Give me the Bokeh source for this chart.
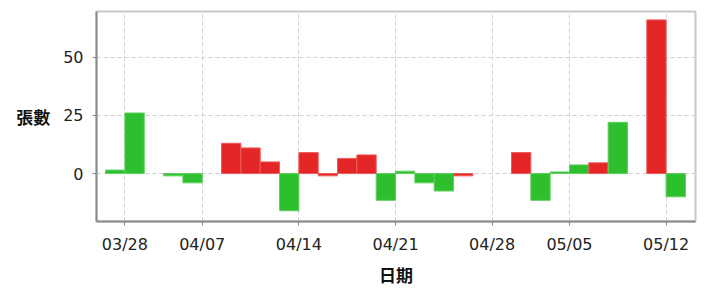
import numpy as np
from bokeh.plotting import figure
from bokeh.models import ColumnDataSource, FixedTicker, Range1d
from bokeh.embed import file_html
from bokeh.resources import INLINE

NA = float("nan")

# trading days (x index = position of each trading day)
dates = ["03/27", "03/28", "03/31", "04/01", "04/02", "04/07", "04/08", "04/09",
         "04/10", "04/11", "04/14", "04/15", "04/16", "04/17", "04/18", "04/21",
         "04/22", "04/23", "04/24", "04/25", "04/28", "04/29", "04/30", "05/02",
         "05/05", "05/06", "05/07", "05/08", "05/09", "05/12"]
values = [1.5, 26, NA, -1, -4, NA, 13, 11, 5, -16, 9, -1, 6.5, 8, -11.5, 1, -4,
          -7.5, -1, NA, NA, 9, -11.5, 0.7, 3.7, 4.6, 22, NA, 66, -10]
direction = ["down", "down", "down", "down", "down", "down", "up", "up", "up",
             "down", "up", "up", "up", "up", "down", "down", "down", "down",
             "up", "up", "up", "up", "down", "down", "down", "up", "down",
             "down", "up", "down"]
tick_labels = ["03/28", "04/07", "04/14", "04/21", "04/28", "05/05", "05/12"]
y_ticks = [0, 25, 50]

RED = "#e52626"
GREEN = "#2ebf2e"
RED_EDGE = "#ec5a5a"
GREEN_EDGE = "#5fcf5f"

idx = list(range(len(dates)))
src = ColumnDataSource(dict(
    x=np.array([i + 0.5 for i in idx]),
    top=np.array(values, dtype=float),
    fill=[RED if d == "up" else GREEN for d in direction],
    edge=[RED_EDGE if d == "up" else GREEN_EDGE for d in direction],
))

p = figure(width=703, height=290, output_backend="svg", toolbar_location=None,
           x_range=Range1d(-0.47, 30.52), y_range=Range1d(-20.6, 69.6),
           min_border_left=96, min_border_right=8, min_border_top=11,
           min_border_bottom=69)

p.vbar(x="x", top="top", bottom=0, width=1.0, fill_color="fill",
       line_color="edge", line_width=1, source=src)

tick_pos = [float(dates.index(t)) for t in tick_labels]
p.xaxis.ticker = FixedTicker(ticks=tick_pos)
p.xaxis.major_label_overrides = {tp: t for tp, t in zip(tick_pos, tick_labels)}
p.yaxis.ticker = FixedTicker(ticks=y_ticks)

for ax in (p.xaxis[0], p.yaxis[0]):
    ax.axis_line_color = "#8a8a8a"
    ax.axis_line_width = 2
    ax.major_tick_line_color = "#8a8a8a"
    ax.major_tick_line_width = 1
    ax.major_tick_out = 4
    ax.major_tick_in = 0
    ax.minor_tick_line_color = None
    ax.major_label_text_font = "DejaVu Sans"
    ax.major_label_text_font_size = "16px"
    ax.major_label_text_color = "#222222"
    ax.major_label_standoff = 9
    ax.axis_label_text_font = "Noto Sans CJK TC"
    ax.axis_label_text_font_size = "17px"
    ax.axis_label_text_font_style = "bold"
    ax.axis_label_text_color = "#111111"

p.xaxis.axis_label = "日期"
p.xaxis.axis_label_standoff = 5
p.yaxis.axis_label = "張數"
p.yaxis.axis_label_standoff = 10
p.yaxis.axis_label_orientation = "horizontal"

p.xgrid.ticker = FixedTicker(ticks=tick_pos)
for g in (p.xgrid[0], p.ygrid[0]):
    g.grid_line_color = "#cfcfcf"
    g.grid_line_dash = "4 3"
    g.grid_line_width = 1

p.outline_line_color = "#c8c8c8"
p.outline_line_width = 2
p.background_fill_color = "white"
p.border_fill_color = "white"

open("out.html", "w").write(file_html(p, INLINE))
